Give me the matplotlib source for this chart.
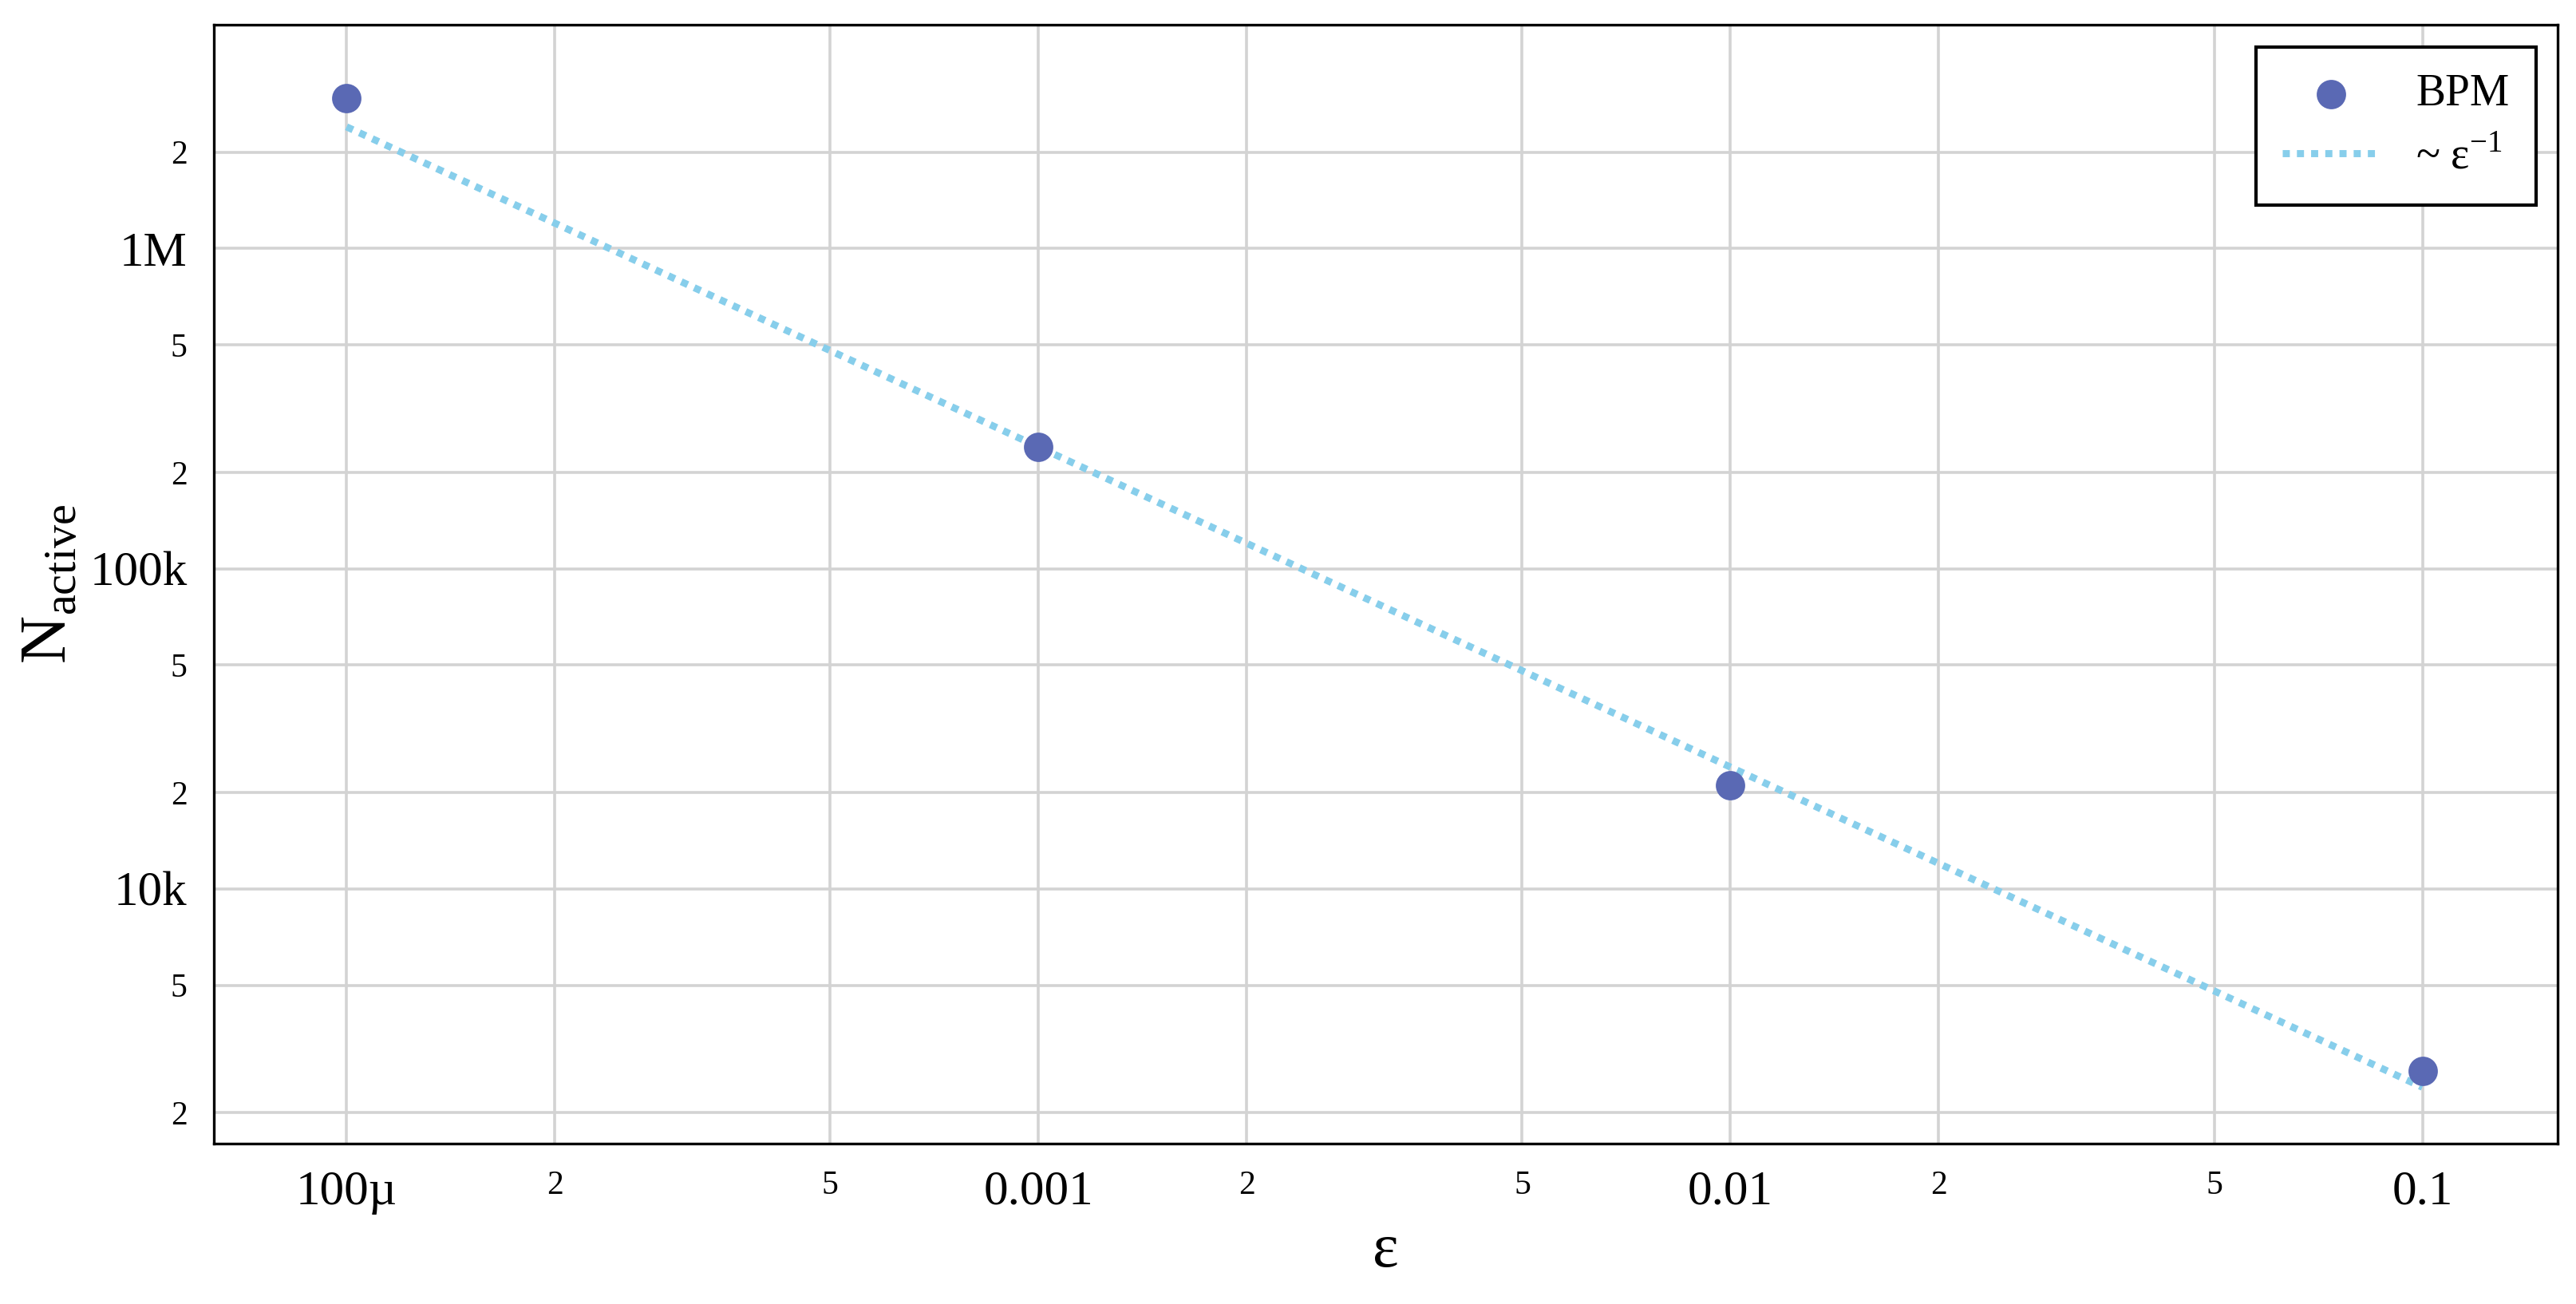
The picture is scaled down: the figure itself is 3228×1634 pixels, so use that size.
import matplotlib
matplotlib.use("Agg")
import matplotlib.pyplot as plt
import numpy as np
from matplotlib.ticker import FixedLocator, FixedFormatter

plt.rcParams['font.family'] = ['Liberation Serif', 'DejaVu Serif']
plt.rcParams['mathtext.fontset'] = 'custom'
plt.rcParams['mathtext.rm'] = 'Liberation Serif'

eps = [1e-4, 1e-3, 1e-2, 1e-1]
n_active = [2.95e6, 2.4e5, 2.1e4, 2.7e3]
fit_eps = [1e-4, 1e-1]
fit_coef = 240.0

fig = plt.figure(figsize=(16.14, 8.17), dpi=200)
ax = fig.add_axes([0.083, 0.123, 0.910, 0.858])
ax.set_xscale('log'); ax.set_yscale('log')

fe = np.array(fit_eps)
h_pts = ax.scatter(eps, n_active, s=150, color='#5A69B4', label='BPM', zorder=3)
h_fit, = ax.plot(fe, fit_coef / fe, linestyle=(0, (1, 1)), color='#87CEEB', lw=3.2,
                 label=r'~ ε$^{\mathregular{-1}}$', zorder=2)

ax.set_xlim(6.43e-5, 0.157)
ax.set_ylim(1600, 5e6)

xmaj = [1e-4, 1e-3, 1e-2, 1e-1]
xmaj_lbl = ['100µ', '0.001', '0.01', '0.1']
xmin = [2e-4, 5e-4, 2e-3, 5e-3, 2e-2, 5e-2]
ymaj = [1e4, 1e5, 1e6]
ymaj_lbl = ['10k', '100k', '1M']
ymin = [2e3, 5e3, 2e4, 5e4, 2e5, 5e5, 2e6]

ax.xaxis.set_major_locator(FixedLocator(xmaj)); ax.xaxis.set_major_formatter(FixedFormatter(xmaj_lbl))
ax.xaxis.set_minor_locator(FixedLocator(xmin)); ax.xaxis.set_minor_formatter(FixedFormatter(['2', '5'] * 3))
ax.yaxis.set_major_locator(FixedLocator(ymaj)); ax.yaxis.set_major_formatter(FixedFormatter(ymaj_lbl))
ax.yaxis.set_minor_locator(FixedLocator(ymin)); ax.yaxis.set_minor_formatter(FixedFormatter(['2', '5', '2', '5', '2', '5', '2']))

ax.tick_params(which='major', length=0, labelsize=22, pad=12)
ax.tick_params(which='minor', length=0, labelsize=15, pad=12)
ax.grid(True, which='both', color='#d3d3d3', lw=1.3)
ax.set_axisbelow(True)
for s in ax.spines.values():
    s.set_linewidth(1.2)

ax.set_xlabel('ε', fontsize=28, labelpad=4)
ax.set_ylabel(r'N$_{\mathregular{active}}$', fontsize=30, labelpad=4)

leg = ax.legend(handles=[h_pts, h_fit], loc='upper right', fontsize=20, frameon=True, fancybox=False,
                edgecolor='black', borderpad=0.6, handlelength=2.2, framealpha=1)
leg.get_frame().set_linewidth(1.5)

fig.savefig('out.png', dpi=200)
